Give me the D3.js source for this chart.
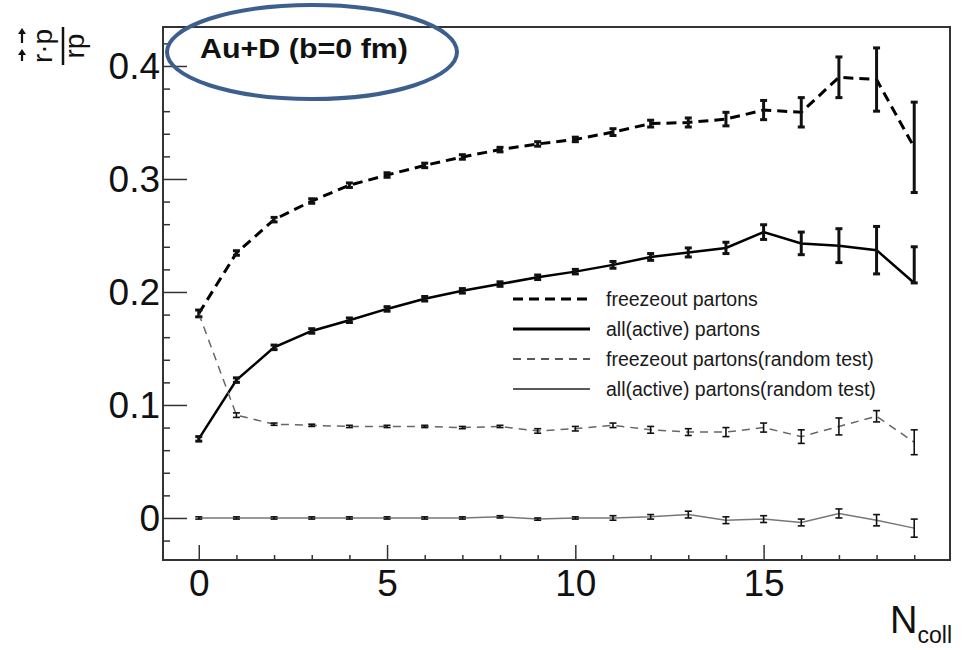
<!DOCTYPE html>
<html lang="en">
<head>
  <meta charset="UTF-8" />
  <title>Au+D correlation vs Ncoll</title>
  <script src="https://d3js.org/d3.v7.min.js"></script>
  <style>
    body { margin: 0; background: #fff; }
    svg { font-family: Arial, "Liberation Sans", sans-serif; display: block; }
    .tick text { fill: #111; }
  </style>
</head>
<body>
  <svg id="chart" width="965" height="650"></svg>

  <script>
    // N_coll bins
    const nColl = [0, 1, 2, 3, 4, 5, 6, 7, 8, 9, 10, 11, 12, 13, 14, 15, 16, 17, 18, 19];

    // freezeout partons
    const freeze    = [0.181, 0.2345, 0.264, 0.2805, 0.2945, 0.3035, 0.312, 0.3195, 0.326, 0.331,
                       0.335, 0.3415, 0.349, 0.350, 0.353, 0.361, 0.359, 0.390, 0.388, 0.328];
    const freezeErr = [0.003, 0.002, 0.002, 0.002, 0.002, 0.002, 0.002, 0.002, 0.002, 0.002,
                       0.002, 0.003, 0.003, 0.004, 0.006, 0.0085, 0.013, 0.018, 0.028, 0.040];

    // all(active) partons (last point has only an upper error)
    const active      = [0.070, 0.122, 0.151, 0.1655, 0.175, 0.185, 0.194, 0.201, 0.207, 0.213,
                         0.218, 0.224, 0.231, 0.235, 0.239, 0.253, 0.243, 0.241, 0.237, 0.208];
    const activeErrHi = [0.002, 0.002, 0.002, 0.002, 0.002, 0.002, 0.002, 0.002, 0.002, 0.002,
                         0.002, 0.003, 0.003, 0.004, 0.005, 0.0065, 0.010, 0.015, 0.021, 0.032];
    const activeErrLo = [0.002, 0.002, 0.002, 0.002, 0.002, 0.002, 0.002, 0.002, 0.002, 0.002,
                         0.002, 0.003, 0.003, 0.004, 0.005, 0.0065, 0.010, 0.015, 0.021, 0];

    // freezeout partons (random test)
    const freezeRnd    = [0.181, 0.091, 0.083, 0.082, 0.081, 0.081, 0.081, 0.080, 0.081, 0.077,
                          0.079, 0.082, 0.078, 0.076, 0.076, 0.080, 0.072, 0.081, 0.090, 0.067];
    const freezeRndErr = [0.003, 0.002, 0.001, 0.001, 0.001, 0.001, 0.001, 0.001, 0.001, 0.002,
                          0.002, 0.002, 0.003, 0.003, 0.004, 0.004, 0.006, 0.0075, 0.005, 0.011];

    // all(active) partons (random test)
    const activeRnd    = [0, 0, 0, 0, 0, 0, 0, 0, 0.001, -0.001,
                          0, 0, 0.001, 0.003, -0.002, -0.001, -0.004, 0.004, -0.002, -0.009];
    const activeRndErr = [0.001, 0.001, 0.001, 0.001, 0.001, 0.001, 0.001, 0.001, 0.001, 0.001,
                          0.001, 0.002, 0.002, 0.003, 0.003, 0.003, 0.003, 0.004, 0.005, 0.008];

    const legendLabels = ["freezeout partons", "all(active) partons",
                          "freezeout partons(random test)", "all(active) partons(random test)"];
    const yTicks = [0, 0.1, 0.2, 0.3, 0.4];
    const xTicks = [0, 5, 10, 15];
    const title = "Au+D (b=0 fm)";

    const svg = d3.select("#chart");
    const m = { left: 163, top: 27, right: 15, bottom: 90 };
    const W = 965 - m.left - m.right;
    const H = 650 - m.top - m.bottom;

    const x = d3.scaleLinear().domain([-0.95, 19.95]).range([0, W]);
    const y = d3.scaleLinear().domain([-0.0372, 0.4345]).range([H, 0]);

    const g = svg.append("g").attr("transform", `translate(${m.left},${m.top})`);

    // minor ticks
    const yMinor = d3.range(-0.02, 0.43, 0.02).filter(v => Math.abs(Math.round(v * 10) - v * 10) > 1e-6);
    g.append("g")
      .call(d3.axisLeft(y).tickValues(yMinor).tickSize(-7).tickFormat(""))
      .call(s => s.select(".domain").remove())
      .selectAll("line").attr("stroke", "#333").attr("stroke-width", 1.5);
    g.append("g").attr("transform", `translate(0,${H})`)
      .call(d3.axisBottom(x).tickValues(nColl.filter(v => v % 5 !== 0)).tickSize(-5).tickFormat(""))
      .call(s => s.select(".domain").remove())
      .selectAll("line").attr("stroke", "#333").attr("stroke-width", 1.5);

    // major ticks + labels
    const yAx = g.append("g")
      .call(d3.axisLeft(y).tickValues(yTicks).tickSize(-24).tickPadding(3)
        .tickFormat(d => d === 0 ? "0" : d3.format(".1f")(d)))
      .call(s => s.select(".domain").remove());
    yAx.selectAll("line").attr("stroke", "#333").attr("stroke-width", 1.5);
    yAx.selectAll("text").attr("font-size", 37).attr("dy", "0.35em");

    const xAx = g.append("g").attr("transform", `translate(0,${H})`)
      .call(d3.axisBottom(x).tickValues(xTicks).tickSize(-15).tickPadding(10))
      .call(s => s.select(".domain").remove());
    xAx.selectAll("line").attr("stroke", "#333").attr("stroke-width", 1.5);
    xAx.selectAll("text").attr("font-size", 37).attr("dy", "0.71em");

    // frame
    g.append("rect").attr("width", W).attr("height", H)
      .attr("fill", "none").attr("stroke", "#333").attr("stroke-width", 2);

    const series = [
      { v: freeze, lo: freezeErr, hi: freezeErr, color: "#000", lw: 3, dash: "10,6", ew: 3 },
      { v: active, lo: activeErrLo, hi: activeErrHi, color: "#000", lw: 2.5, dash: null, ew: 3 },
      { v: freezeRnd, lo: freezeRndErr, hi: freezeRndErr, color: "#666", lw: 1.5, dash: "8,6", ew: 1.6 },
      { v: activeRnd, lo: activeRndErr, hi: activeRndErr, color: "#777", lw: 1.5, dash: null, ew: 1.6 }
    ];

    const line = d3.line().x(d => x(d[0])).y(d => y(d[1]));

    series.forEach(s => {
      const pts = nColl.map((n, i) => [n, s.v[i]]);
      g.append("path").datum(pts)
        .attr("d", line)
        .attr("fill", "none")
        .attr("stroke", s.color)
        .attr("stroke-width", s.lw)
        .attr("stroke-dasharray", s.dash);

      const eb = g.append("g").attr("stroke", "#111").attr("stroke-width", s.ew);
      nColl.forEach((n, i) => {
        const x0 = x(n);
        const yTop = y(s.v[i] + s.hi[i]);
        const yBot = y(s.v[i] - s.lo[i]);
        eb.append("line").attr("x1", x0).attr("x2", x0).attr("y1", yTop).attr("y2", yBot);
        eb.append("line").attr("x1", x0 - 3.5).attr("x2", x0 + 3.5).attr("y1", yTop).attr("y2", yTop);
        eb.append("line").attr("x1", x0 - 3.5).attr("x2", x0 + 3.5).attr("y1", yBot).attr("y2", yBot);
      });
    });

    // legend
    const leg = svg.append("g").attr("transform", "translate(513,299)");
    legendLabels.forEach((lab, i) => {
      const s = series[i];
      const row = leg.append("g").attr("transform", `translate(0,${i * 30})`);
      row.append("line").attr("x1", 0).attr("x2", 77)
        .attr("stroke", i < 2 ? "#000" : "#222")
        .attr("stroke-width", i < 2 ? 3 : 1.5)
        .attr("stroke-dasharray", s.dash);
      row.append("text").attr("x", 93).attr("dy", "0.35em")
        .attr("font-size", 19.5).attr("fill", "#1a1a1a").text(lab);
    });

    // x axis title
    const xt = svg.append("text").attr("x", 952).attr("y", 633)
      .attr("text-anchor", "end").attr("fill", "#111");
    xt.append("tspan").attr("font-size", 38).text("N");
    xt.append("tspan").attr("font-size", 23).attr("dy", 10).text("coll");

    // y axis title: (r·p with vector arrows) / (rp), rotated
    const yt = svg.append("g").attr("transform", "translate(63,46) rotate(-90)");
    yt.append("line").attr("x1", -19).attr("x2", 19).attr("y1", 0).attr("y2", 0)
      .attr("stroke", "#111").attr("stroke-width", 2.5);
    yt.append("text").attr("x", 0).attr("y", -11).attr("text-anchor", "middle")
      .attr("font-size", 28).attr("fill", "#111").text("r\u00b7p");
    yt.append("text").attr("x", 0).attr("y", 21).attr("text-anchor", "middle")
      .attr("font-size", 28).attr("fill", "#111").text("rp");
    [[-15, -6], [3, 15]].forEach(([a, b]) => {
      yt.append("line").attr("x1", a).attr("x2", b).attr("y1", -41).attr("y2", -41)
        .attr("stroke", "#111").attr("stroke-width", 2.2);
      yt.append("path").attr("d", `M${b + 3},-41 L${b - 3},-45 L${b - 3},-37 Z`).attr("fill", "#111");
    });

    // title with highlight ellipse
    svg.append("text").attr("x", 200).attr("y", 58)
      .attr("font-size", 28).attr("font-weight", "bold").attr("fill", "#111")
      .attr("textLength", 208).attr("lengthAdjust", "spacingAndGlyphs").text(title);
    svg.append("ellipse").attr("cx", 312).attr("cy", 52).attr("rx", 145).attr("ry", 47)
      .attr("fill", "none").attr("stroke", "#3d5f8e").attr("stroke-width", 4);
  </script>
</body>
</html>
